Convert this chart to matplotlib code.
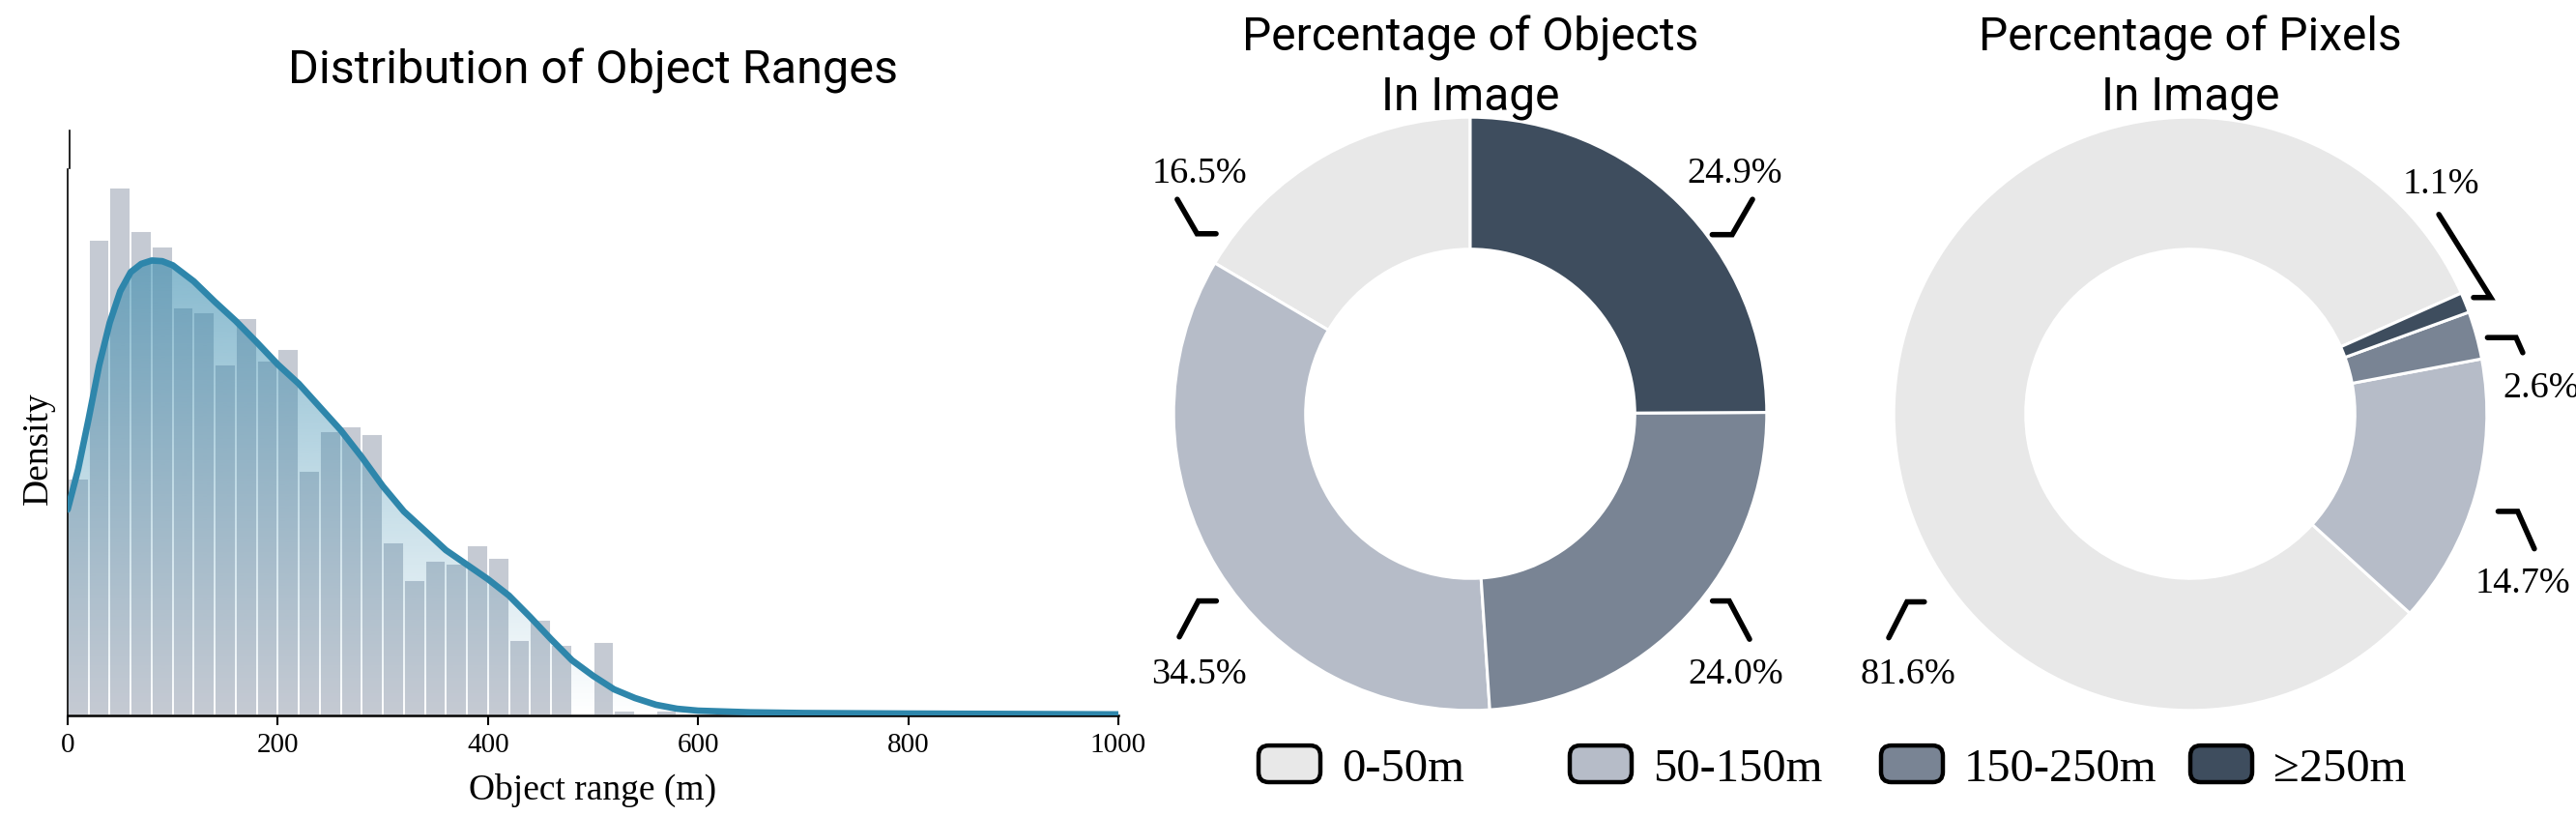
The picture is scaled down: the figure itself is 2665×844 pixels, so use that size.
import numpy as np
import matplotlib
matplotlib.use("Agg")
import matplotlib.pyplot as plt
from matplotlib.patches import Polygon, FancyBboxPatch, Patch
from matplotlib.legend_handler import HandlerBase
from matplotlib.colors import to_rgb

# ---------------- data ----------------
bin_width = 20  # m
# histogram density per 20 m bin, starting at 0 m
hist_density = [0.001731, 0.003476, 0.003858, 0.003540, 0.003427, 0.002982, 0.002947,
                0.002565, 0.002904, 0.002593, 0.002678, 0.001788, 0.002077, 0.002113,
                0.002056, 0.001265, 0.000989, 0.001134, 0.001106, 0.001244, 0.001152,
                0.000551, 0.000700, 0.000516, 0.0, 0.000537, 0.000035, 0.0, 0.000035]
kde_x = [0, 10, 20, 30, 40, 50, 60, 70, 80, 90, 100, 120, 140, 160, 180, 200, 220, 240,
         260, 280, 300, 320, 340, 360, 380, 400, 420, 440, 460, 480, 500, 520, 540, 560,
         580, 600, 650, 700, 800, 900, 1000]
kde_y = [0.001505, 0.001800, 0.002170, 0.002560, 0.002870, 0.003100, 0.003240, 0.003300,
         0.003325, 0.003320, 0.003290, 0.003173, 0.003024, 0.002883, 0.002727, 0.002565,
         0.002424, 0.002254, 0.002084, 0.001887, 0.001675, 0.001491, 0.001350, 0.001208,
         0.001102, 0.000996, 0.000876, 0.000721, 0.000558, 0.000403, 0.000290, 0.000191,
         0.000127, 0.000078, 0.000049, 0.000035, 0.000023, 0.000018, 0.000014, 0.000011,
         0.000008]
x_ticks = [0, 200, 400, 600, 800, 1000]

categories = ["0-50m", "50-150m", "150-250m", "\u2265250m"]
cat_colors = ["#e8e8e8", "#b6bcc8", "#798494", "#3e4d5e"]
objects_pct = [16.5, 34.5, 24.0, 24.9]
pixels_pct = [81.6, 14.7, 2.6, 1.1]

# ---------------- style ----------------
SERIF = ["Liberation Serif", "DejaVu Serif"]
SANS = ["Roboto", "DejaVu Sans"]
W, H = 2665, 845
fig = plt.figure(figsize=(W / 100, H / 100), dpi=100)

def fx(px):
    return px / W

def fy(py):
    return 1 - py / H

# ---------------- histogram ----------------
ax_l, ax_r, ax_t, ax_b = 70, 1157, 176, 741
ax = fig.add_axes([fx(ax_l), fy(ax_b), fx(ax_r - ax_l), (ax_b - ax_t) / H])
edges = np.arange(len(hist_density)) * bin_width
ax.bar(edges, hist_density, width=bin_width, align="edge", color="#c5cad3",
       edgecolor="white", linewidth=1.4, zorder=1)

kx = np.array(kde_x, dtype=float)
ky = np.array(kde_y, dtype=float)
peak = ky.max()
verts = [(kx[0], 0)] + list(zip(kx, ky)) + [(kx[-1], 0)]
poly = Polygon(verts, closed=True, facecolor="none", edgecolor="none")
ax.add_patch(poly)
n = 256
rgba = np.zeros((n, 1, 4))
rgba[..., :3] = to_rgb("#2E86AB")
rgba[:, 0, 3] = np.linspace(0, 0.58, n)
im = ax.imshow(rgba, extent=[0, 1000, 0, peak], origin="lower", aspect="auto",
               zorder=2, interpolation="bilinear")
im.set_clip_path(poly)
ax.plot(kx, ky, color="#2E86AB", lw=4.8, zorder=3, solid_capstyle="round",
        solid_joinstyle="round")

ymax = max(hist_density) * 565 / 546
ax.set_xlim(0, 1000)
ax.set_ylim(0, ymax)
ax.set_xticks(x_ticks)
ax.set_xticklabels([str(t) for t in x_ticks], fontfamily=SERIF, fontsize=21)
ax.set_yticks([])
ax.tick_params(axis="x", length=7, width=1.5, pad=5, color="black")
for s in ["top", "right"]:
    ax.spines[s].set_visible(False)
ax.spines["left"].set_linewidth(1.2)
ax.spines["bottom"].set_linewidth(1.8)
ax.set_xlabel("Object range (m)", fontfamily=SERIF, fontsize=27)
ax.set_ylabel("Density", fontfamily=SERIF, fontsize=27)
ax.xaxis.set_label_coords(0.5, -0.105)
ax.yaxis.set_label_coords(-0.012, 0.49)
ax.text(0.5, 1.182, "Distribution of Object Ranges", transform=ax.transAxes,
        ha="center", va="center", fontfamily=SANS, fontsize=35)

# small extra spine segment above the axes
ax2 = fig.add_axes([fx(ax_l + 2.3), fy(ax_b), fx(ax_r - ax_l), (ax_b - 136) / H])
ax2.set_ylim(0, 1)
ax2.patch.set_visible(False)
ax2.set_xticks([])
ax2.set_yticks([])
for s in ["top", "right", "bottom"]:
    ax2.spines[s].set_visible(False)
ax2.spines["left"].set_bounds((ax_b - 175) / (ax_b - 136), 1.0)
ax2.spines["left"].set_linewidth(1.2)

# ---------------- donuts ----------------
R = 295
K = 1.3
def pie_axes(cx, cy):
    side = 2 * K * R
    a = fig.add_axes([fx(cx - side / 2), fy(cy + side / 2), fx(side), side / H])
    a.set_xlim(-K, K)
    a.set_ylim(-K, K)
    a.set_aspect("equal")
    a.axis("off")
    return a

# per label: text pos, connector end near text, connector end near wedge, diagonal angle
left_layout = [
    ((-0.913, 0.813), (-0.988, 0.723), (-0.857, 0.607), 120),
    ((-0.914, -0.876), (-0.981, -0.752), (-0.856, -0.631), 62),
    ((0.894, -0.876), (0.942, -0.760), (0.817, -0.631), 118),
    ((0.892, 0.813), (0.952, 0.723), (0.816, 0.604), 60),
]
right_layout = [
    ((-0.951, -0.876), (-1.017, -0.755), (-0.897, -0.634), 63),
    ((1.120, -0.571), (1.160, -0.455), (1.038, -0.329), 114),
    ((1.183, 0.088), (1.121, 0.206), (1.002, 0.257), 114),
    ((0.844, 0.775), (0.838, 0.672), (0.955, 0.392), 122),
]

def donut(cx, cy, values, startangle, layout, title):
    a = pie_axes(cx, cy)
    a.pie(values, colors=cat_colors, startangle=startangle, counterclock=True,
          radius=1.0, wedgeprops=dict(width=0.445, edgecolor="white", linewidth=2.2))
    for v, (tp, pa, pb, ang) in zip(values, layout):
        a.text(tp[0], tp[1], f"{v:.1f}%", ha="center", va="center",
               fontfamily=SERIF, fontsize=27.5)
        a.annotate("", xy=pb, xytext=pa,
                   arrowprops=dict(arrowstyle="-", color="black", lw=4.0,
                                   shrinkA=0, shrinkB=0, capstyle="round",
                                   joinstyle="miter",
                                   connectionstyle=f"angle,angleA={ang},angleB=0,rad=0"))
    fig.text(fx(cx), fy(70), title, ha="center", va="center", fontfamily=SANS,
             fontsize=34.5, linespacing=1.38)

donut(1521, 429, objects_pct, 90, left_layout, "Percentage of Objects\nIn Image")
donut(2266, 429, pixels_pct, 24, right_layout, "Percentage of Pixels\nIn Image")

# ---------------- legend ----------------
class HandlerRound(HandlerBase):
    def create_artists(self, legend, orig_handle, xdescent, ydescent, width, height,
                       fontsize, trans):
        p = FancyBboxPatch((-xdescent, -ydescent), width, height,
                           boxstyle=f"round,pad=0,rounding_size={height * 0.28}",
                           facecolor=orig_handle.get_facecolor(), edgecolor="black",
                           linewidth=3.2, transform=trans)
        return [p]

leg_fs = 35
em = leg_fs * 100 / 72
leg_x = [1300, 1622, 1944, 2264]
for cat, col, lx in zip(categories, cat_colors, leg_x):
    h = Patch(facecolor=col, edgecolor="black")
    fig.legend([h], [cat], loc="center left", bbox_to_anchor=(fx(lx + 2), fy(795)),
               frameon=False, handler_map={Patch: HandlerRound()},
               prop=dict(family=SERIF, size=leg_fs), handlelength=64 / em,
               handleheight=40 / em, handletextpad=0.45, borderpad=0,
               borderaxespad=0)

fig.savefig("out.png", dpi=100)
